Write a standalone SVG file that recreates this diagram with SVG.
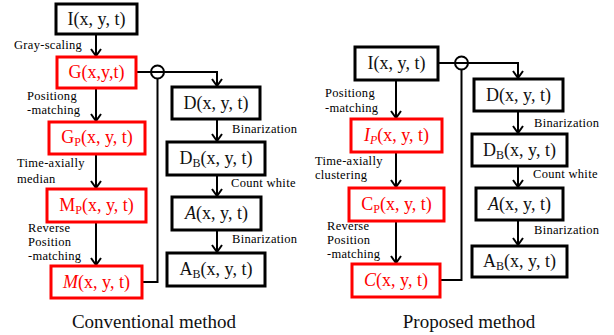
<svg xmlns="http://www.w3.org/2000/svg" width="614" height="335" viewBox="0 0 614 335">
  <style>
    .box { fill: #fff; stroke: #000; stroke-width: 3; }
    .rbox { fill: #fff; stroke: #f00; stroke-width: 3; }
    .bt { font-family: "Liberation Serif", "DejaVu Serif", serif; font-size: 18px; fill: #111; text-anchor: middle; }
    .rt { font-family: "Liberation Serif", "DejaVu Serif", serif; font-size: 18px; fill: #f00; text-anchor: middle; }
    .sub { font-size: 12px; }
    .lbl { font-family: "Liberation Serif", "DejaVu Serif", serif; font-size: 12.5px; letter-spacing: 0.3px; fill: #000; }
    .cap { font-family: "Liberation Serif", "DejaVu Serif", serif; font-size: 19px; fill: #111; text-anchor: middle; }
    .wire { fill: none; stroke: #000; stroke-width: 2; }
    .arr { fill: none; stroke: #000; stroke-width: 2; marker-end: url(#chev); }
  </style>
  <defs>
    <marker id="chev" markerUnits="userSpaceOnUse" viewBox="-10 -10 20 20" markerWidth="20" markerHeight="20" refX="0" refY="0" orient="auto" overflow="visible">
      <path d="M-7,-5 L0,0 L-7,5" fill="none" stroke="#000" stroke-width="2"/>
    </marker>
  </defs>

  <!-- connectors -->
  <g id="connectors">
    <!-- conventional method -->
    <line class="arr" x1="96" y1="34" x2="96" y2="56"/>
    <line class="arr" x1="96" y1="88" x2="96" y2="121"/>
    <line class="arr" x1="96" y1="154" x2="96" y2="188"/>
    <line class="arr" x1="96" y1="222" x2="96" y2="265"/>
    <polyline class="arr" points="136,72 217,72 217,86"/>
    <circle cx="157.5" cy="72" r="6.5" fill="none" stroke="#000" stroke-width="2"/>
    <polyline class="wire" points="157.5,78.5 157.5,282 142,282"/>
    <line class="arr" x1="217" y1="119" x2="217" y2="141"/>
    <line class="arr" x1="217" y1="175" x2="217" y2="196"/>
    <line class="arr" x1="217" y1="230" x2="217" y2="252"/>

    <!-- proposed method -->
    <line class="arr" x1="396" y1="80" x2="396" y2="118"/>
    <line class="arr" x1="396" y1="152" x2="396" y2="187"/>
    <line class="arr" x1="396" y1="221" x2="396" y2="263"/>
    <polyline class="arr" points="438,63 518,63 518,78"/>
    <circle cx="461.5" cy="63" r="6.5" fill="none" stroke="#000" stroke-width="2"/>
    <polyline class="wire" points="461.5,69.5 461.5,280 440,280"/>
    <line class="arr" x1="518" y1="111" x2="518" y2="133"/>
    <line class="arr" x1="518" y1="166" x2="518" y2="187"/>
    <line class="arr" x1="518" y1="220" x2="518" y2="245"/>
  </g>

  <!-- conventional method nodes -->
  <g id="c-I">
    <rect class="box" x="56" y="4" width="81" height="30"/>
    <text class="bt" x="96.5" y="25">I(x, y, t)</text>
  </g>
  <g id="c-G">
    <rect class="rbox" x="57" y="57" width="79" height="31"/>
    <text class="rt" x="96.5" y="78">G(x,y,t)</text>
  </g>
  <g id="c-Gp">
    <rect class="rbox" x="49" y="122" width="96" height="32"/>
    <text class="rt" x="97" y="143">G<tspan class="sub" dy="3">P</tspan><tspan dy="-3">(x, y, t)</tspan></text>
  </g>
  <g id="c-Mp">
    <rect class="rbox" x="47" y="189" width="99" height="33"/>
    <text class="rt" x="96.5" y="211">M<tspan class="sub" dy="3">P</tspan><tspan dy="-3">(x, y, t)</tspan></text>
  </g>
  <g id="c-M">
    <rect class="rbox" x="51" y="266" width="91" height="32"/>
    <text class="rt" x="96.5" y="288"><tspan font-style="italic">M</tspan>(x, y, t)</text>
  </g>
  <g id="c-D">
    <rect class="box" x="172" y="87" width="88" height="32"/>
    <text class="bt" x="216" y="109">D(x, y, t)</text>
  </g>
  <g id="c-DB">
    <rect class="box" x="167" y="142" width="98" height="33"/>
    <text class="bt" x="216" y="164">D<tspan class="sub" dy="3">B</tspan><tspan dy="-3">(x, y, t)</tspan></text>
  </g>
  <g id="c-A">
    <rect class="box" x="172" y="197" width="89" height="33"/>
    <text class="bt" x="216.5" y="219"><tspan font-style="italic">A</tspan>(x, y, t)</text>
  </g>
  <g id="c-AB">
    <rect class="box" x="167" y="253" width="98" height="33"/>
    <text class="bt" x="216" y="275">A<tspan class="sub" dy="3">B</tspan><tspan dy="-3">(x, y, t)</tspan></text>
  </g>

  <!-- proposed method nodes -->
  <g id="p-I">
    <rect class="box" x="355" y="47" width="83" height="33"/>
    <text class="bt" x="396.5" y="69">I(x, y, t)</text>
  </g>
  <g id="p-Ip">
    <rect class="rbox" x="351" y="119" width="91" height="33"/>
    <text class="rt" x="396.5" y="141"><tspan font-style="italic">I</tspan><tspan class="sub" font-style="italic" dy="3">P</tspan><tspan dy="-3">(x, y, t)</tspan></text>
  </g>
  <g id="p-Cp">
    <rect class="rbox" x="349" y="188" width="95" height="33"/>
    <text class="rt" x="396.5" y="210">C<tspan class="sub" dy="3">P</tspan><tspan dy="-3">(x, y, t)</tspan></text>
  </g>
  <g id="p-C">
    <rect class="rbox" x="352" y="264" width="88" height="33"/>
    <text class="rt" x="396" y="286"><tspan font-style="italic">C</tspan>(x, y, t)</text>
  </g>
  <g id="p-D">
    <rect class="box" x="474" y="79" width="89" height="32"/>
    <text class="bt" x="518.5" y="101">D(x, y, t)</text>
  </g>
  <g id="p-DB">
    <rect class="box" x="472" y="134" width="95" height="32"/>
    <text class="bt" x="519.5" y="156">D<tspan class="sub" dy="3">B</tspan><tspan dy="-3">(x, y, t)</tspan></text>
  </g>
  <g id="p-A">
    <rect class="box" x="476" y="188" width="87" height="32"/>
    <text class="bt" x="519.5" y="210"><tspan font-style="italic">A</tspan>(x, y, t)</text>
  </g>
  <g id="p-AB">
    <rect class="box" x="472" y="246" width="95" height="31"/>
    <text class="bt" x="519.5" y="267">A<tspan class="sub" dy="3">B</tspan><tspan dy="-3">(x, y, t)</tspan></text>
  </g>

  <!-- edge labels -->
  <g id="labels">
    <text class="lbl" x="14" y="49">Gray-scaling</text>
    <text class="lbl" x="27" y="100">Positiong</text>
    <text class="lbl" x="27" y="114">-matching</text>
    <text class="lbl" x="17" y="167">Time-axially</text>
    <text class="lbl" x="17" y="183">median</text>
    <text class="lbl" x="28" y="232">Reverse</text>
    <text class="lbl" x="28" y="246">Position</text>
    <text class="lbl" x="28" y="260">-matching</text>
    <text class="lbl" x="232" y="133">Binarization</text>
    <text class="lbl" x="231" y="187">Count white</text>
    <text class="lbl" x="232" y="243">Binarization</text>

    <text class="lbl" x="325" y="97">Positiong</text>
    <text class="lbl" x="325" y="112">-matching</text>
    <text class="lbl" x="315" y="165">Time-axially</text>
    <text class="lbl" x="315" y="179">clustering</text>
    <text class="lbl" x="327" y="230">Reverse</text>
    <text class="lbl" x="327" y="244">Position</text>
    <text class="lbl" x="327" y="258">-matching</text>
    <text class="lbl" x="534" y="127">Binarization</text>
    <text class="lbl" x="533" y="178">Count white</text>
    <text class="lbl" x="534" y="234">Binarization</text>
  </g>

  <!-- captions -->
  <text class="cap" x="154" y="328">Conventional method</text>
  <text class="cap" x="469" y="328">Proposed method</text>
</svg>
